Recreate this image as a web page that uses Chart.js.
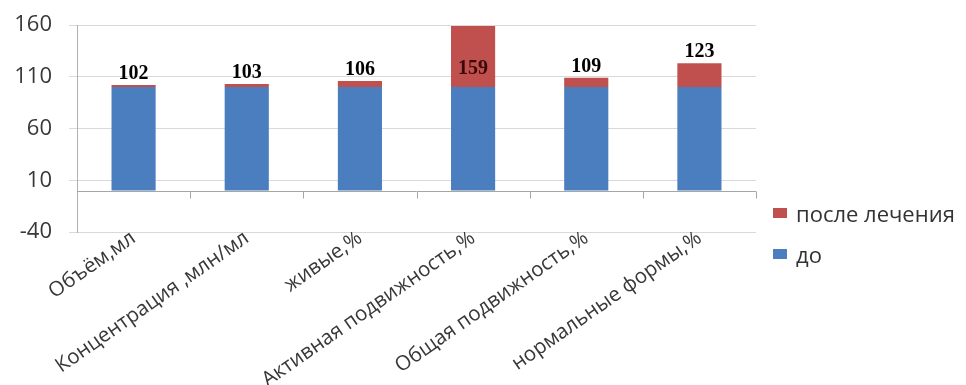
<!DOCTYPE html>
<html>
<head>
<meta charset="utf-8">
<script src="https://cdn.jsdelivr.net/npm/chart.js@4"></script>
<style>
  html, body { margin: 0; padding: 0; background: #fff; }
  #wrap { position: relative; width: 966px; height: 385px; overflow: hidden; }
  #legend { position: absolute; left: 773px; top: 192px; font-family: 'Open Sans', sans-serif; font-size: 22px; color: #333; }
  #legend .item { display: flex; align-items: center; height: 41px; }
  #legend .box { width: 14px; height: 10px; margin-right: 9px; }
</style>
</head>
<body>
<div id="wrap">
  <canvas id="chart" width="966" height="385"></canvas>
  <div id="legend"></div>
</div>
<script>
// categories and values
const categories = [
  'Объём,мл',
  'Концентрация ,млн/мл',
  'живые,%',
  'Активная подвижность,%',
  'Общая подвижность,%',
  'нормальные формы,%'
];
const beforeValues = [100, 100, 100, 100, 100, 100];   // до
const afterGain = [2, 3, 6, 59, 9, 23];                 // после лечения (прирост)
const yTicks = [-40, 10, 60, 110, 160];

const BLUE = '#4a7ebf';
const RED = '#c0504d';

// axis line at zero with small tick marks between categories
const zeroAxis = {
  id: 'zeroAxis',
  beforeDatasetsDraw(chart) {
    const { ctx, chartArea, scales } = chart;
    const y0 = Math.round(scales.y.getPixelForValue(0)) + 0.5;
    ctx.save();
    ctx.strokeStyle = '#a6a6a6';
    ctx.lineWidth = 1;
    ctx.beginPath();
    ctx.moveTo(chartArea.left, y0);
    ctx.lineTo(chartArea.right, y0);
    const n = categories.length;
    for (let i = 1; i <= n; i++) {
      let x;
      if (i === n) x = chartArea.right;
      else x = (scales.x.getPixelForTick(i - 1) + scales.x.getPixelForTick(i)) / 2;
      x = Math.round(x) + 0.5;
      ctx.moveTo(x, y0);
      ctx.lineTo(x, y0 + 7);
    }
    ctx.stroke();
    ctx.restore();
  }
};

// total value labels above the stacks
const totalLabels = {
  id: 'totalLabels',
  afterDatasetsDraw(chart) {
    const { ctx, chartArea } = chart;
    const meta = chart.getDatasetMeta(1);
    ctx.save();
    ctx.font = 'bold 20px "Liberation Serif", serif';
    ctx.textAlign = 'center';
    ctx.textBaseline = 'middle';
    meta.data.forEach((bar, i) => {
      const total = beforeValues[i] + afterGain[i];
      let y = bar.y - 11;
      if (y - 10 < chartArea.top) {
        y = bar.y + 43;
        ctx.fillStyle = '#3a0808';
      } else {
        ctx.fillStyle = '#000';
      }
      ctx.fillText(String(total), bar.x, y);
    });
    ctx.restore();
  }
};

const datasets = [
  { label: 'до', data: beforeValues, backgroundColor: BLUE },
  { label: 'после лечения', data: afterGain, backgroundColor: RED }
];

new Chart(document.getElementById('chart'), {
  type: 'bar',
  data: { labels: categories, datasets },
  plugins: [zeroAxis, totalLabels],
  options: {
    responsive: false,
    animation: false,
    layout: { padding: { top: 25, right: 210, left: 0, bottom: 0 } },
    datasets: { bar: { barPercentage: 0.39, categoryPercentage: 1 } },
    plugins: { legend: { display: false }, tooltip: { enabled: false } },
    scales: {
      x: {
        stacked: true,
        grid: { display: false },
        border: { display: false },
        ticks: {
          autoSkip: false,
          minRotation: 35,
          maxRotation: 35,
          padding: -14,
          color: '#383838',
          font: { family: "'Open Sans', sans-serif", size: 20.5 }
        },
        afterFit(scale) { scale.height = 153; }
      },
      y: {
        stacked: true,
        min: -40,
        max: 160,
        afterBuildTicks(scale) { scale.ticks = yTicks.map(v => ({ value: v })); },
        grid: { color: '#d9d9d9', tickLength: 8, tickColor: '#d9d9d9' },
        border: { color: '#b0b0b0' },
        ticks: {
          padding: 17,
          color: '#383838',
          font: { family: "'Open Sans', sans-serif", size: 22 }
        },
        afterFit(scale) {
          scale.width = 77;
          scale.paddingTop = 0;
          scale.paddingBottom = 0;
        }
      }
    }
  }
});

// legend, listed like the original: top series first
const legend = document.getElementById('legend');
datasets.slice().reverse().forEach(ds => {
  const item = document.createElement('div');
  item.className = 'item';
  item.innerHTML = '<span class="box" style="background:' + ds.backgroundColor + '"></span>' + ds.label;
  legend.appendChild(item);
});
</script>
</body>
</html>
